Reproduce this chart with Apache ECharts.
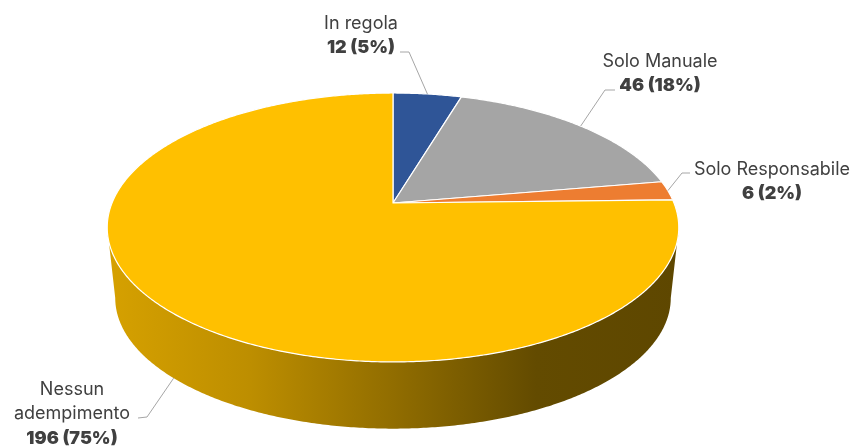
<!DOCTYPE html>
<html>
<head>
<meta charset="utf-8">
<style>html,body{margin:0;padding:0;background:#fff}#chart{width:856px;height:446px}</style>
<script src="https://cdn.jsdelivr.net/npm/echarts@6/dist/echarts.min.js"></script>
</head>
<body>
<div id="chart"></div>
<script>
// Compliance status of the surveyed entities
const categories = ['In regola', 'Solo Manuale', 'Solo Responsabile', 'Nessun\nadempimento'];
const values = [12, 46, 6, 196];
const colors = ['#2F5597', '#A5A5A5', '#ED7D31', '#FFC000'];

// Label anchor (text centre x, first line y) and elbow of each leader line
const labelAnchors = [[361, 11], [660, 49], [772, 157], [72, 377]];
const leaderElbows = [[[400, 52], [409, 52]], [[615, 90], [605, 90]], [[690, 173], [682, 173]], [[138, 418], [147, 417]]];

// Perspective disc: apex of the slices, half-width, half-depth, foreshortening
const APEX_X = 393, APEX_Y = 203, HALF_W = 281, HALF_D = 130, PERSP = 0.182;
// The lower rim is the top rim scaled about the ellipse centre and dropped
const RIM_SCALE = 0.972, RIM_CY = 227.5, RIM_DROP_CY = 298;
// Brightness of the wall from left to right
const wallShade = [[0, 0.84], [0.25, 0.74], [0.5, 0.57], [0.75, 0.39], [1, 0.37]];

const total = values.reduce((a, b) => a + b, 0);

function project(deg) {
  const t = deg * Math.PI / 180, u = Math.sin(t), v = Math.cos(t), d = 1 + PERSP * v;
  return [APEX_X + HALF_W * u / d, APEX_Y - HALF_D * v / d];
}
function lowerRim(p) {
  return [APEX_X + RIM_SCALE * (p[0] - APEX_X), RIM_DROP_CY + RIM_SCALE * (p[1] - RIM_CY)];
}
function arc(a0, a1) {
  const pts = [], n = Math.max(2, Math.ceil((a1 - a0) * 2));
  for (let i = 0; i <= n; i++) pts.push(project(a0 + (a1 - a0) * i / n));
  return pts;
}
function shade(hex, k) {
  const c = [1, 3, 5].map(i => Math.round(parseInt(hex.substr(i, 2), 16) * k));
  return 'rgb(' + c.join(',') + ')';
}

function renderSlice(params, api) {
  const i = params.dataIndex, value = api.value(0);
  const before = values.slice(0, i).reduce((a, b) => a + b, 0);
  const a0 = before / total * 360, a1 = (before + value) / total * 360, mid = (a0 + a1) / 2;
  const children = [];

  // Outer wall, only on the part of the rim facing the viewer
  const tilt = Math.asin(PERSP) * 180 / Math.PI;
  const w0 = Math.max(a0, 90 + tilt), w1 = Math.min(a1, 270 - tilt);
  if (w1 > w0) {
    const top = arc(w0, w1);
    const extent = [project(270 - tilt)[0], project(90 + tilt)[0]];
    children.push({
      type: 'polygon',
      shape: { points: top.concat(top.map(lowerRim).reverse()) },
      style: {
        fill: new echarts.graphic.LinearGradient(extent[0], 0, extent[1], 0,
          wallShade.map(s => ({ offset: s[0], color: shade(colors[i], s[1]) })), true)
      }
    });
  }

  // Top face
  children.push({
    type: 'polygon',
    shape: { points: [[APEX_X, APEX_Y]].concat(arc(a0, a1)) },
    style: { fill: colors[i], stroke: '#fff', lineWidth: 1.2, lineJoin: 'round' }
  });

  // Leader line, ending on the rim at the slice's mid angle
  const rim = project(mid);
  const anchor = (mid > 90 + tilt && mid < 270 - tilt) ? lowerRim(rim) : rim;
  children.push({
    type: 'polyline',
    shape: { points: leaderElbows[i].concat([anchor]) },
    style: { fill: null, stroke: '#A6A6A6', lineWidth: 1 }
  });

  // Two-part label: name, then count and share
  const nameLines = categories[i].split('\n').map(l => '{n|' + l + '}').join('\n');
  const share = Math.round(value / total * 100);
  children.push({
    type: 'text',
    style: {
      x: labelAnchors[i][0],
      y: labelAnchors[i][1],
      align: 'center',
      verticalAlign: 'top',
      text: nameLines + '\n{b|' + value + ' (' + share + '%)}',
      rich: {
        n: { fontFamily: 'Inter', fontSize: 18, fontWeight: 400, fill: '#404040', lineHeight: 24.5, align: 'center' },
        b: { fontFamily: 'Inter', fontSize: 18, fontWeight: 900, fill: '#404040', lineHeight: 24.5, align: 'center' }
      }
    }
  });
  return { type: 'group', children };
}

const chart = echarts.init(document.getElementById('chart'), null, { renderer: 'canvas' });
chart.setOption({
  animation: false,
  backgroundColor: '#fff',
  series: [{
    type: 'custom',
    coordinateSystem: 'none',
    silent: true,
    renderItem: renderSlice,
    data: values.map((v, i) => ({ name: categories[i], value: [v] }))
  }]
});
</script>
</body>
</html>
